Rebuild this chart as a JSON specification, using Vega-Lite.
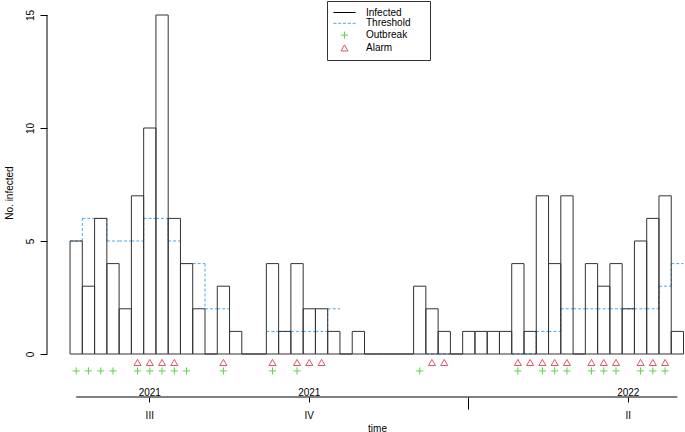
{
  "$schema": "https://vega.github.io/schema/vega-lite/v6.json",
  "width": 638,
  "height": 397,
  "autosize": "none",
  "padding": {"left": 47, "top": 0, "right": 0, "bottom": 35},
  "background": "white",
  "config": {
    "view": {"stroke": null},
    "font": "Liberation Sans",
    "axis": {
      "labelFont": "Liberation Sans",
      "titleFont": "Liberation Sans",
      "labelColor": "#000",
      "titleColor": "#000",
      "titleFontWeight": "normal",
      "labelFontSize": 10,
      "titleFontSize": 10,
      "tickColor": "#000",
      "grid": false
    }
  },
  "datasets": {
    "weeks": [
      {"t": 1, "infected": 5, "threshold": 5},
      {"t": 2, "infected": 3, "threshold": 6},
      {"t": 3, "infected": 6, "threshold": 6},
      {"t": 4, "infected": 4, "threshold": 5},
      {"t": 5, "infected": 2, "threshold": 5},
      {"t": 6, "infected": 7, "threshold": 5},
      {"t": 7, "infected": 10, "threshold": 6},
      {"t": 8, "infected": 15, "threshold": 6},
      {"t": 9, "infected": 6, "threshold": 5},
      {"t": 10, "infected": 4, "threshold": 4},
      {"t": 11, "infected": 2, "threshold": 4},
      {"t": 12, "infected": 0, "threshold": 2},
      {"t": 13, "infected": 3, "threshold": 2},
      {"t": 14, "infected": 1, "threshold": null},
      {"t": 15, "infected": 0, "threshold": null},
      {"t": 16, "infected": 0, "threshold": null},
      {"t": 17, "infected": 4, "threshold": 1},
      {"t": 18, "infected": 1, "threshold": 1},
      {"t": 19, "infected": 4, "threshold": 1},
      {"t": 20, "infected": 2, "threshold": 1},
      {"t": 21, "infected": 2, "threshold": 1},
      {"t": 22, "infected": 1, "threshold": 2},
      {"t": 23, "infected": 0, "threshold": null},
      {"t": 24, "infected": 1, "threshold": null},
      {"t": 25, "infected": 0, "threshold": null},
      {"t": 26, "infected": 0, "threshold": null},
      {"t": 27, "infected": 0, "threshold": null},
      {"t": 28, "infected": 0, "threshold": null},
      {"t": 29, "infected": 3, "threshold": null},
      {"t": 30, "infected": 2, "threshold": 0},
      {"t": 31, "infected": 1, "threshold": 0},
      {"t": 32, "infected": 0, "threshold": null},
      {"t": 33, "infected": 1, "threshold": null},
      {"t": 34, "infected": 1, "threshold": null},
      {"t": 35, "infected": 1, "threshold": null},
      {"t": 36, "infected": 1, "threshold": null},
      {"t": 37, "infected": 4, "threshold": 0},
      {"t": 38, "infected": 1, "threshold": 0},
      {"t": 39, "infected": 7, "threshold": 1},
      {"t": 40, "infected": 4, "threshold": 1},
      {"t": 41, "infected": 7, "threshold": 2},
      {"t": 42, "infected": 0, "threshold": 2},
      {"t": 43, "infected": 4, "threshold": 2},
      {"t": 44, "infected": 3, "threshold": 2},
      {"t": 45, "infected": 4, "threshold": 2},
      {"t": 46, "infected": 2, "threshold": 2},
      {"t": 47, "infected": 5, "threshold": 2},
      {"t": 48, "infected": 6, "threshold": 2},
      {"t": 49, "infected": 7, "threshold": 3},
      {"t": 50, "infected": 1, "threshold": 4}
    ],
    "signals": [
      {"t": 1, "kind": "Outbreak"}, {"t": 2, "kind": "Outbreak"}, {"t": 3, "kind": "Outbreak"}, {"t": 4, "kind": "Outbreak"},
      {"t": 6, "kind": "Outbreak"}, {"t": 7, "kind": "Outbreak"}, {"t": 8, "kind": "Outbreak"}, {"t": 9, "kind": "Outbreak"},
      {"t": 10, "kind": "Outbreak"}, {"t": 13, "kind": "Outbreak"}, {"t": 17, "kind": "Outbreak"}, {"t": 19, "kind": "Outbreak"},
      {"t": 29, "kind": "Outbreak"}, {"t": 37, "kind": "Outbreak"}, {"t": 39, "kind": "Outbreak"}, {"t": 40, "kind": "Outbreak"},
      {"t": 41, "kind": "Outbreak"}, {"t": 43, "kind": "Outbreak"}, {"t": 44, "kind": "Outbreak"}, {"t": 45, "kind": "Outbreak"},
      {"t": 47, "kind": "Outbreak"}, {"t": 48, "kind": "Outbreak"}, {"t": 49, "kind": "Outbreak"},
      {"t": 6, "kind": "Alarm"}, {"t": 7, "kind": "Alarm"}, {"t": 8, "kind": "Alarm"}, {"t": 9, "kind": "Alarm"},
      {"t": 13, "kind": "Alarm"}, {"t": 17, "kind": "Alarm"}, {"t": 19, "kind": "Alarm"}, {"t": 20, "kind": "Alarm"},
      {"t": 21, "kind": "Alarm"}, {"t": 30, "kind": "Alarm"}, {"t": 31, "kind": "Alarm"}, {"t": 37, "kind": "Alarm"},
      {"t": 38, "kind": "Alarm"}, {"t": 39, "kind": "Alarm"}, {"t": 40, "kind": "Alarm"}, {"t": 41, "kind": "Alarm"},
      {"t": 43, "kind": "Alarm"}, {"t": 44, "kind": "Alarm"}, {"t": 45, "kind": "Alarm"}, {"t": 47, "kind": "Alarm"},
      {"t": 48, "kind": "Alarm"}, {"t": 49, "kind": "Alarm"}
    ]
  },
  "layer": [
    {
      "data": {"name": "weeks"},
      "transform": [{"filter": "isValid(datum.threshold)"}],
      "mark": {"type": "rule", "stroke": "#4aa8ec", "strokeWidth": 1, "strokeDash": [3, 2]},
      "encoding": {
        "x": {
          "field": "t",
          "type": "ordinal",
          "scale": {"type": "band", "paddingInner": 0, "paddingOuter": 1.075, "align": 0.939},
          "axis": {
            "values": [7, 20, 33, 46],
            "domain": false,
            "labelAngle": 0,
            "tickSize": {"condition": {"test": "datum.value == 33", "value": 12}, "value": 5},
            "labelExpr": "datum.value == 7 ? ['2021','III'] : datum.value == 20 ? ['2021','IV'] : datum.value == 46 ? ['2022','II'] : ''",
            "labelBaseline": "alphabetic",
            "labelPadding": -7,
            "labelLineHeight": 23.3,
            "title": "time",
            "titleX": 330,
            "titleY": 34,
            "titleAlign": "center",
            "titleBaseline": "alphabetic"
          },
          "bandPosition": 0
        },
        "x2": {"field": "t", "bandPosition": 1},
        "y": {
          "field": "threshold",
          "type": "quantitative",
          "scale": {"domain": [-1.903, 15.664], "nice": false, "zero": false},
          "axis": {
            "values": [0, 5, 10, 15],
            "domain": false,
            "tickSize": 7,
            "labelAngle": 270,
            "labelPadding": 5,
            "title": "No. infected",
            "titleAngle": 270,
            "titleX": -38,
            "titleY": 192.5,
            "titleAlign": "center",
            "titleBaseline": "middle"
          }
        }
      }
    },
    {
      "data": {"name": "weeks"},
      "transform": [
        {"window": [{"op": "lead", "field": "threshold", "as": "next"}], "sort": [{"field": "t", "order": "ascending"}]},
        {"filter": "isValid(datum.threshold) && isValid(datum.next)"}
      ],
      "mark": {"type": "rule", "stroke": "#4aa8ec", "strokeWidth": 1, "strokeDash": [3, 2]},
      "encoding": {
        "x": {"field": "t", "type": "ordinal", "bandPosition": 1},
        "y": {"field": "threshold", "type": "quantitative"},
        "y2": {"field": "next"}
      }
    },
    {
      "data": {"name": "weeks"},
      "mark": {"type": "bar", "fill": "white", "fillOpacity": 0, "stroke": "#333", "strokeWidth": 1},
      "encoding": {
        "x": {"field": "t", "type": "ordinal"},
        "y": {"field": "infected", "type": "quantitative"},
        "y2": {"datum": 0}
      }
    },
    {
      "data": {"name": "signals"},
      "transform": [{"filter": "datum.kind == 'Alarm'"}],
      "mark": {"type": "point", "filled": false, "size": 50, "strokeWidth": 1, "opacity": 1},
      "encoding": {
        "x": {"field": "t", "type": "ordinal"},
        "y": {"datum": -0.375, "type": "quantitative"},
        "color": {
          "field": "kind", "type": "nominal",
          "scale": {"domain": ["Infected", "Threshold", "Outbreak", "Alarm"], "range": ["#000000", "#4aa8ec", "#61D04F", "#DF536B"]},
          "legend": {"orient": "none", "legendX": 280, "legendY": 1, "title": ".", "titleOrient": "right", "titleOpacity": 0, "titlePadding": 9.7, "titleFontSize": 10, "padding": 6.5, "strokeColor": "#333", "fillColor": "white", "symbolSize": 50, "symbolStrokeWidth": 1, "labelFont": "Liberation Sans", "labelFontSize": 10, "labelColor": "#000", "symbolOffset": 6, "labelOffset": 16.5, "rowPadding": 0.8}
        },
        "shape": {
          "field": "kind", "type": "nominal",
          "scale": {"domain": ["Infected", "Threshold", "Outbreak", "Alarm"], "range": ["M-3.14,0H3.14", "M-3.14,0h0.86m0.5,0h0.86m0.5,0h0.86m0.5,0h0.86m0.5,0h0.86", "M-1,0H1M0,-1V1", "triangle-up"]},
          "legend": {"orient": "none", "legendX": 280, "legendY": 1, "title": ".", "titleOrient": "right", "titleOpacity": 0, "titlePadding": 9.7, "titleFontSize": 10, "padding": 6.5, "strokeColor": "#333", "fillColor": "white", "symbolSize": 50, "symbolStrokeWidth": 1, "labelFont": "Liberation Sans", "labelFontSize": 10, "labelColor": "#000", "symbolOffset": 6, "labelOffset": 16.5, "rowPadding": 0.8}
        }
      }
    },
    {
      "data": {"name": "signals"},
      "transform": [{"filter": "datum.kind == 'Outbreak'"}],
      "mark": {"type": "point", "filled": false, "size": 50, "strokeWidth": 1, "opacity": 1},
      "encoding": {
        "x": {"field": "t", "type": "ordinal"},
        "y": {"datum": -0.75, "type": "quantitative"},
        "color": {"field": "kind", "type": "nominal"},
        "shape": {"field": "kind", "type": "nominal"}
      }
    },
    {
      "data": {"values": [{}]},
      "mark": {"type": "rule", "stroke": "#000", "strokeWidth": 1},
      "encoding": {
        "x": {"datum": 1, "type": "ordinal"},
        "x2": {"datum": 50},
        "y": {"datum": -1.903, "type": "quantitative"}
      }
    },
    {
      "data": {"values": [{}]},
      "mark": {"type": "rule", "stroke": "#000", "strokeWidth": 1},
      "encoding": {
        "x": {"value": 0},
        "y": {"datum": 0, "type": "quantitative"},
        "y2": {"datum": 15}
      }
    }
  ]
}
